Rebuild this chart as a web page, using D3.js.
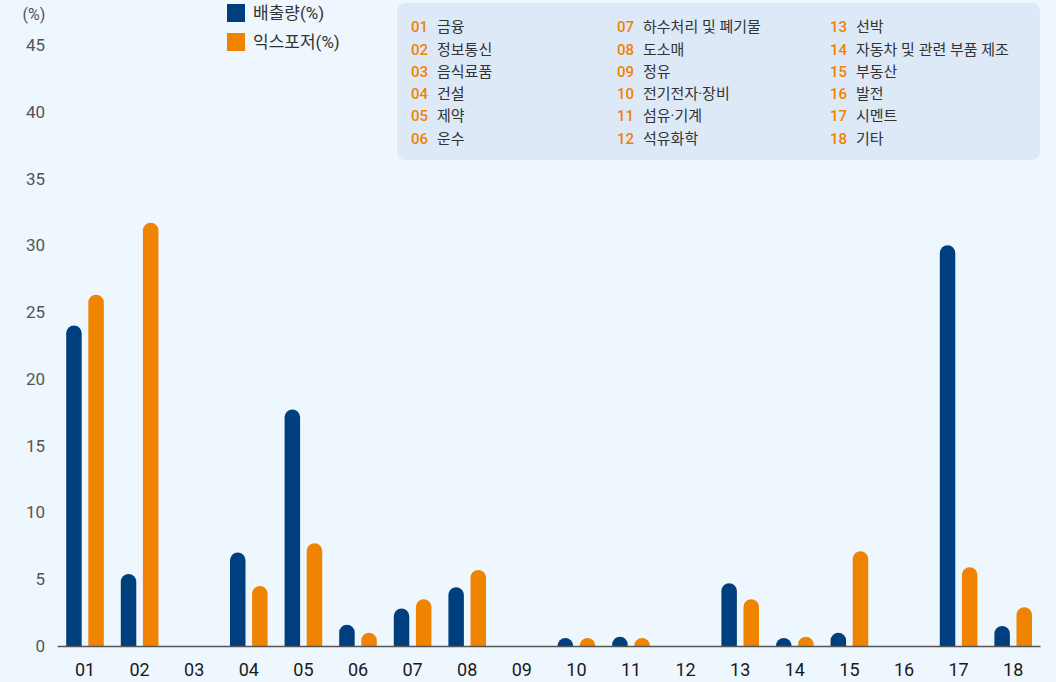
<!DOCTYPE html>
<html>
<head>
<meta charset="utf-8">
<script src="https://cdn.jsdelivr.net/npm/d3@7"></script>
<style>
  html, body { margin: 0; padding: 0; background: #eef6fe; }
  svg { display: block; font-family: Roboto, "Noto Sans CJK KR", sans-serif; }
</style>
</head>
<body>
<div id="chart"></div>
<script>
// category codes and names
const codes = ["01","02","03","04","05","06","07","08","09","10","11","12","13","14","15","16","17","18"];
const names = ["금융","정보통신","음식료품","건설","제약","운수","하수처리 및 폐기물","도소매","정유",
  "전기전자·장비","섬유·기계","석유화학","선박","자동차 및 관련 부품 제조","부동산","발전","시멘트","기타"];

// series values (%)
const emission = [24.0, 5.4, 0, 7.0, 17.7, 1.6, 2.8, 4.4, 0, 0.6, 0.7, 0, 4.7, 0.6, 1.0, 0, 30.0, 1.5];
const exposure = [26.3, 31.7, 0, 4.5, 7.7, 1.0, 3.5, 5.7, 0, 0.6, 0.6, 0, 3.5, 0.7, 7.1, 0, 5.9, 2.9];

const seriesKeys = ["배출량(%)", "익스포저(%)"];
const yTicks = [0, 5, 10, 15, 20, 25, 30, 35, 40, 45];

const W = 1056, H = 682;
const colors = { "배출량(%)": "#003f7d", "익스포저(%)": "#f08300" };

const svg = d3.select("#chart").append("svg")
  .attr("width", W).attr("height", H);

svg.append("rect").attr("width", W).attr("height", H).attr("fill", "#eef6fe");

const x = d3.scaleBand().domain(codes).range([57.7, 1040.5]);
const x1 = d3.scaleBand().domain(seriesKeys).range([8.5, 46.1]).paddingInner(0.3);
const y = d3.scaleLinear().domain([0, 45]).range([646, 45]);

// y axis labels
svg.append("g")
  .selectAll("text")
  .data(yTicks)
  .join("text")
    .attr("x", 45)
    .attr("y", d => y(d))
    .attr("dy", "0.35em")
    .attr("text-anchor", "end")
    .attr("fill", "#555")
    .attr("font-size", 17)
    .text(d => d);

svg.append("text")
  .attr("x", 34).attr("y", 14).attr("dy", "0.35em")
  .attr("text-anchor", "middle")
  .attr("fill", "#555").attr("font-size", 16)
  .text("(%)");

// rounded-top bar path
function barPath(bx, w, top, base) {
  const r = w / 2, h = base - top, cx = bx + r;
  if (h <= 0) return "";
  if (h >= r) {
    return `M${bx},${base}V${top + r}A${r},${r} 0 0 1 ${bx + w},${top + r}V${base}Z`;
  }
  const hc = Math.sqrt(r * r - (r - h) * (r - h));
  return `M${cx - hc},${base}A${r},${r} 0 0 1 ${cx + hc},${base}Z`;
}

const rows = codes.map((c, i) => ({ code: c, values: [emission[i], exposure[i]] }));

const groups = svg.append("g")
  .selectAll("g")
  .data(rows)
  .join("g")
    .attr("transform", d => `translate(${x(d.code)},0)`);

groups.selectAll("path")
  .data(d => d.values.map((v, j) => ({ key: seriesKeys[j], v })))
  .join("path")
    .attr("fill", d => colors[d.key])
    .attr("d", d => barPath(x1(d.key), x1.bandwidth(), y(d.v), y(0)));

// baseline
svg.append("line")
  .attr("x1", 57.7).attr("x2", 1040.5)
  .attr("y1", y(0) + 0.5).attr("y2", y(0) + 0.5)
  .attr("stroke", "#555").attr("stroke-width", 1.3);

// category labels
svg.append("g")
  .selectAll("text")
  .data(codes)
  .join("text")
    .attr("x", d => x(d) + x.bandwidth() / 2)
    .attr("y", 670)
    .attr("dy", "0.35em")
    .attr("text-anchor", "middle")
    .attr("fill", "#1a1a1a")
    .attr("font-size", 18)
    .text(d => d);

// series legend
const leg = svg.append("g")
  .selectAll("g")
  .data(seriesKeys)
  .join("g")
    .attr("transform", (d, i) => `translate(227,${4 + i * 29})`);
leg.append("rect").attr("width", 18).attr("height", 18).attr("fill", d => colors[d]);
leg.append("text")
  .attr("x", 26).attr("y", 9).attr("dy", "0.35em")
  .attr("fill", "#333").attr("font-size", 17)
  .text(d => d);

// category name box
svg.append("rect")
  .attr("x", 397).attr("y", 3).attr("width", 643).attr("height", 157)
  .attr("rx", 8).attr("fill", "#dde9f7");

const colX = [411, 617, 830];
const names18 = codes.map((c, i) => ({ code: c, name: names[i], col: Math.floor(i / 6), row: i % 6 }));
const items = svg.append("g")
  .selectAll("g")
  .data(names18)
  .join("g")
    .attr("transform", d => `translate(${colX[d.col]},${27 + d.row * 22.3})`);
items.append("text")
  .attr("dy", "0.35em")
  .attr("fill", "#f08300").attr("font-size", 15).attr("font-weight", 500)
  .text(d => d.code);
items.append("text")
  .attr("x", 26).attr("dy", "0.35em")
  .attr("fill", "#333").attr("font-size", 15)
  .text(d => d.name);
</script>
</body>
</html>
